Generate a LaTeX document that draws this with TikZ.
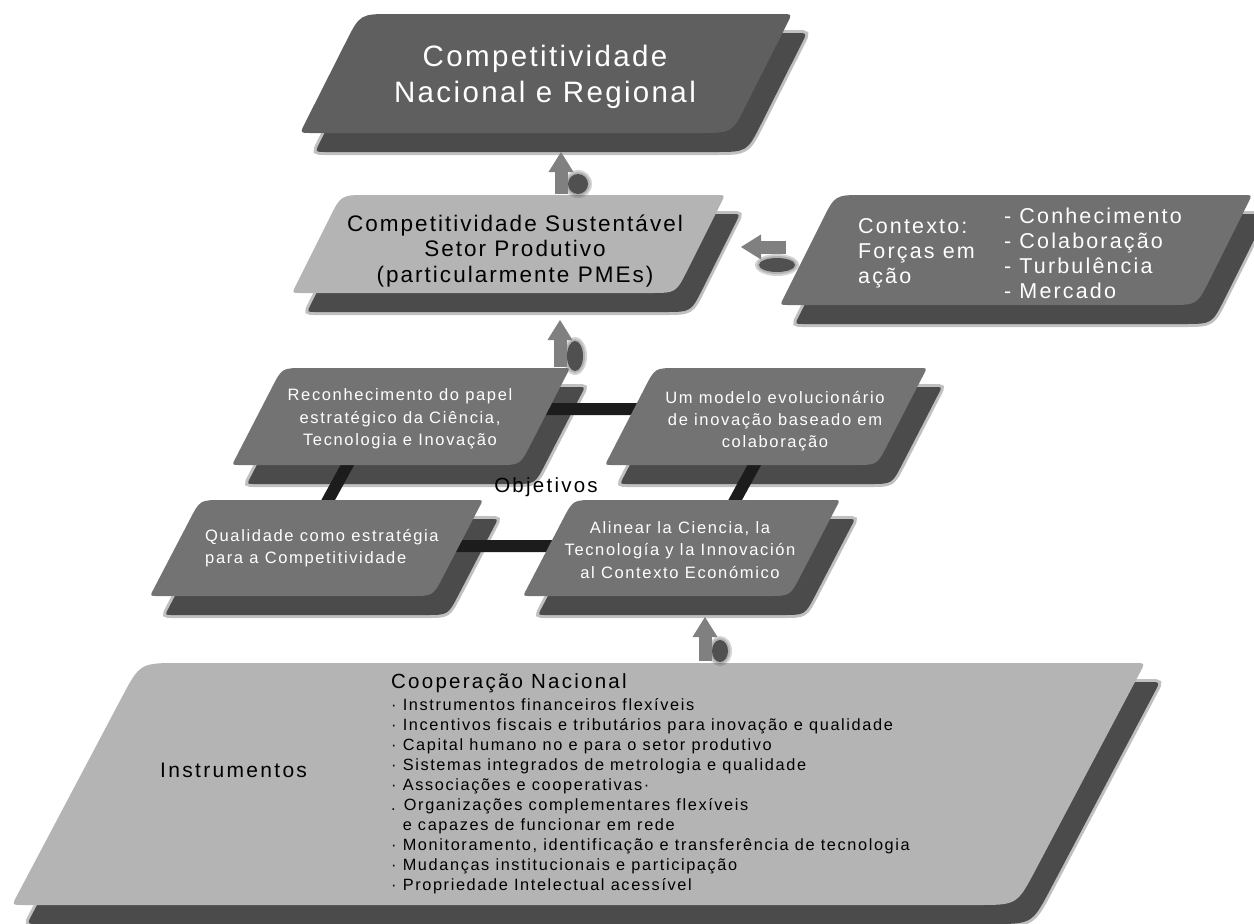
\documentclass[tikz,border=0pt]{standalone}
\usepackage{fontspec}
\setmainfont{Liberation Sans}
\newfontfamily\fA[LetterSpace=8]{Liberation Sans}
\newfontfamily\fB[LetterSpace=9]{Liberation Sans}
\newfontfamily\fC[LetterSpace=10]{Liberation Sans}
\newfontfamily\fO[LetterSpace=10]{Liberation Sans}
\newfontfamily\fT[LetterSpace=11]{Liberation Sans}
\newfontfamily\fL[LetterSpace=10]{Liberation Sans}
\usetikzlibrary{calc,arrows.meta}
\definecolor{cA}{HTML}{5F5F5F}
\definecolor{cB}{HTML}{B4B4B4}
\definecolor{cC}{HTML}{707070}
\definecolor{cO}{HTML}{737373}
\definecolor{cD}{HTML}{B4B4B4}
\definecolor{shc}{HTML}{4B4B4B}
\definecolor{arrc}{HTML}{808080}
\definecolor{blobc}{HTML}{505050}
\definecolor{barc}{HTML}{1C1C1C}
% rounded parallelogram from four named corners: prefix, small radius, large radius
\newcommand\pgshape[3]{($(#1bl)!#2!(#1br)$) -- ($(#1br)!#3!(#1bl)$) .. controls (#1br) .. ($(#1br)!#3!(#1tr)$)
 -- ($(#1tr)!#2!(#1br)$) .. controls (#1tr) .. ($(#1tr)!#2!(#1tl)$)
 -- ($(#1tl)!#3!(#1tr)$) .. controls (#1tl) .. ($(#1tl)!#3!(#1bl)$)
 -- ($(#1bl)!#2!(#1tl)$) .. controls (#1bl) .. ($(#1bl)!#2!(#1br)$) -- cycle}
\begin{document}
\begin{tikzpicture}[x=1pt,y=-1pt,
  shfill/.style={fill=shc},
  shedge/.style={draw=shc, line width=6pt, draw opacity=0.35},
  bar/.style={draw=barc, line width=12pt, line join=round},
  blob/.style={fill=blobc},
  blobsoft/.style={fill=blobc, fill opacity=0.25},
  blockarrow/.style={draw=arrc, line width=13pt, arrows={-{Triangle[length=20pt 0,width=25pt 0,line width=0pt]}}},
  txtA/.style={text=white, font=\fA\fontsize{29.5}{36}\selectfont, align=center, inner sep=0pt},
  txtB/.style={text=black, font=\fB\fontsize{22.5}{25.5}\selectfont, align=center, inner sep=0pt},
  txtC/.style={text=white, font=\fC\fontsize{21.5}{25}\selectfont, align=left, inner sep=0pt, anchor=west},
  txtO/.style={text=white, font=\fO\fontsize{16.5}{22.3}\selectfont, align=center, inner sep=0pt},
  txtT/.style={text=black, font=\fT\fontsize{#1}{#1}\selectfont, inner sep=0pt},
  txtL/.style={text=black, font=\fL\fontsize{16.3}{20}\selectfont, align=left, inner sep=0pt, anchor=west}
]
\useasboundingbox[fill=white] (0,0) rectangle (1254,924);

% corners of the boxes
\coordinate (A-bl) at (300,133); \coordinate (A-br) at (732,133);
\coordinate (A-tr) at (792,14);  \coordinate (A-tl) at (360,14);
\coordinate (B-bl) at (292,293); \coordinate (B-br) at (676,293);
\coordinate (B-tr) at (725,195); \coordinate (B-tl) at (341,195);
\coordinate (C-bl) at (780,305); \coordinate (C-br) at (1197,305);
\coordinate (C-tr) at (1252,195); \coordinate (C-tl) at (835,195);
\coordinate (O1-bl) at (232,465); \coordinate (O1-br) at (520,465);
\coordinate (O1-tr) at (570,368); \coordinate (O1-tl) at (282,368);
\coordinate (O2-bl) at (605,465); \coordinate (O2-br) at (877,465);
\coordinate (O2-tr) at (927,368); \coordinate (O2-tl) at (655,368);
\coordinate (O3-bl) at (150,596); \coordinate (O3-br) at (433,596);
\coordinate (O3-tr) at (483,500); \coordinate (O3-tl) at (200,500);
\coordinate (O4-bl) at (523,596); \coordinate (O4-br) at (790,596);
\coordinate (O4-tr) at (840,500); \coordinate (O4-tl) at (573,500);
\coordinate (D-bl) at (12,905);  \coordinate (D-br) at (1017,905);
\coordinate (D-tr) at (1145,663); \coordinate (D-tl) at (140,663);
% ring of objectives
\coordinate (r1) at (378,409); \coordinate (r2) at (785,409);
\coordinate (r3) at (710,546); \coordinate (r4) at (303,546);
% arrow ends
\coordinate (a1s) at (561,194); \coordinate (a1e) at (561,152);
\coordinate (a2s) at (786,247); \coordinate (a2e) at (741,247);
\coordinate (a3s) at (560,367); \coordinate (a3e) at (560,320);
\coordinate (a4s) at (705,661); \coordinate (a4e) at (705,617);

% ---------- shadows of the boxes ----------
\begin{scope}[transform canvas={shift={(15pt,-19pt)}}]
  \foreach \p/\rs/\rl in {A-/10pt/32pt, B-/8pt/26pt, C-/8pt/28pt, O1-/7pt/22pt, O2-/7pt/22pt, O3-/7pt/22pt, O4-/7pt/22pt, D-/10pt/40pt}{
    \fill[shfill] \pgshape{\p}{\rs}{\rl};
    \draw[shedge] \pgshape{\p}{\rs}{\rl};
  }
\end{scope}

% ---------- boxes ----------
\fill[cA] \pgshape{A-}{10pt}{32pt};
\fill[cB] \pgshape{B-}{8pt}{26pt};
\fill[cC] \pgshape{C-}{8pt}{28pt};
\draw[bar] (r1) -- (r2) -- (r3) -- (r4) -- cycle;
\fill[cO] \pgshape{O1-}{7pt}{22pt};
\fill[cO] \pgshape{O2-}{7pt}{22pt};
\fill[cO] \pgshape{O3-}{7pt}{22pt};
\fill[cO] \pgshape{O4-}{7pt}{22pt};
\fill[cD] \pgshape{D-}{10pt}{40pt};

% ---------- block arrows (soft shadow blobs, then arrows) ----------
\foreach \cx/\cy/\rx/\ry in {578/184/10/10, 777/265/18/7, 575/356/8/15, 720/651/8/11}{
  \fill[blobsoft] (\cx,\cy) ellipse [x radius=\rx pt+4pt, y radius=\ry pt+4pt];
  \fill[blobsoft] (\cx,\cy) ellipse [x radius=\rx pt+2pt, y radius=\ry pt+2pt];
  \fill[blob] (\cx,\cy) ellipse [x radius=\rx pt, y radius=\ry pt];
}
\draw[blockarrow] (a1s) -- (a1e);
\draw[blockarrow] (a2s) -- (a2e);
\draw[blockarrow] (a3s) -- (a3e);
\draw[blockarrow] (a4s) -- (a4e);

% ---------- texts ----------
\node[txtA] (tA) at (545,77) {Competitividade\\Nacional e Regional};
\node[txtB] (tB) at (515,251) {Competitividade Sustentável\\Setor Produtivo\\(particularmente PMEs)};
\node[txtC] (tC1) at (858,253) {Contexto:\\Forças em\\ação};
\node[txtC] (tC2) at (1004,253) {- Conhecimento\\- Colaboração\\- Turbulência\\- Mercado};
\node[txtO] (tO1) at (400,419) {Reconhecimento do papel\\estratégico da Ciência,\\Tecnologia e Inovação};
\node[txtO] (tO2) at (775,421) {Um modelo evolucionário\\de inovação baseado em\\colaboração};
\node[txtO, align=left, anchor=west] (tO3) at (205,548) {Qualidade como estratégia\\para a Competitividade};
\node[txtO] (tO4) at (680,550) {Alinear la Ciencia, la\\Tecnología y la Innovación\\al Contexto Económico};
\node[txtT=20.5] (tObj) at (546,487) {Objetivos};
\node[txtT=21, anchor=west] (tInst) at (160,770) {Instrumentos};
\node[txtT=20.5, anchor=west] (tCoop) at (391,683) {Cooperação Nacional};
\node[txtL] (tList) at (391,796) {· Instrumentos financeiros flexíveis\\
· Incentivos fiscais e tributários para inovação e qualidade\\
· Capital humano no e para o setor produtivo\\
· Sistemas integrados de metrologia e qualidade\\
· Associações e cooperativas·\\
. Organizações complementares flexíveis\\
\phantom{·\ }e capazes de funcionar em rede\\
· Monitoramento, identificação e transferência de tecnologia\\
· Mudanças institucionais e participação\\
· Propriedade Intelectual acessível};
\end{tikzpicture}
\end{document}
